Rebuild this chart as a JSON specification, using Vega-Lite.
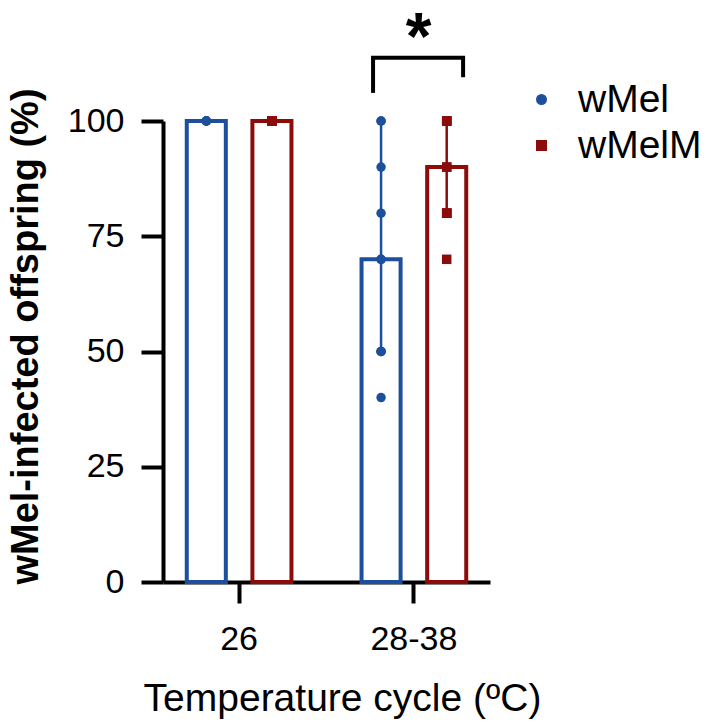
{
  "$schema": "https://vega.github.io/schema/vega-lite/v6.json",
  "width": 327,
  "height": 461,
  "autosize": {"type": "none"},
  "padding": {"left": 163, "top": 121, "right": 219, "bottom": 142},
  "background": "white",
  "config": {
    "view": {"stroke": null},
    "font": "Liberation Sans",
    "axis": {"domainColor": "black", "tickColor": "black", "labelColor": "black", "titleColor": "black", "grid": false},
    "legend": {"title": null, "orient": "none", "legendX": 359, "legendY": -41, "padding": 0, "labelFontSize": 39, "labelOffset": 17, "rowPadding": 6, "symbolSize": 90, "labelColor": "black"}
  },
  "datasets": {
    "bars": [
      {"temp": "26", "group": "wMel", "value": 100, "low": 100, "high": 100},
      {"temp": "26", "group": "wMelM", "value": 100, "low": 100, "high": 100},
      {"temp": "28-38", "group": "wMel", "value": 70, "low": 50, "high": 100},
      {"temp": "28-38", "group": "wMelM", "value": 90, "low": 80, "high": 100}
    ],
    "points": [
      {"temp": "26", "group": "wMel", "value": 100},
      {"temp": "26", "group": "wMel", "value": 100},
      {"temp": "26", "group": "wMel", "value": 100},
      {"temp": "26", "group": "wMel", "value": 100},
      {"temp": "26", "group": "wMel", "value": 100},
      {"temp": "26", "group": "wMelM", "value": 100},
      {"temp": "26", "group": "wMelM", "value": 100},
      {"temp": "26", "group": "wMelM", "value": 100},
      {"temp": "26", "group": "wMelM", "value": 100},
      {"temp": "26", "group": "wMelM", "value": 100},
      {"temp": "28-38", "group": "wMel", "value": 100},
      {"temp": "28-38", "group": "wMel", "value": 100},
      {"temp": "28-38", "group": "wMel", "value": 90},
      {"temp": "28-38", "group": "wMel", "value": 80},
      {"temp": "28-38", "group": "wMel", "value": 70},
      {"temp": "28-38", "group": "wMel", "value": 70},
      {"temp": "28-38", "group": "wMel", "value": 50},
      {"temp": "28-38", "group": "wMel", "value": 50},
      {"temp": "28-38", "group": "wMel", "value": 50},
      {"temp": "28-38", "group": "wMel", "value": 40},
      {"temp": "28-38", "group": "wMelM", "value": 100},
      {"temp": "28-38", "group": "wMelM", "value": 100},
      {"temp": "28-38", "group": "wMelM", "value": 100},
      {"temp": "28-38", "group": "wMelM", "value": 100},
      {"temp": "28-38", "group": "wMelM", "value": 90},
      {"temp": "28-38", "group": "wMelM", "value": 90},
      {"temp": "28-38", "group": "wMelM", "value": 80},
      {"temp": "28-38", "group": "wMelM", "value": 80},
      {"temp": "28-38", "group": "wMelM", "value": 80},
      {"temp": "28-38", "group": "wMelM", "value": 80},
      {"temp": "28-38", "group": "wMelM", "value": 70}
    ],
    "sig": [
      {"temp": "28-38", "top": 113.7, "leftBottom": 106.1, "rightBottom": 109.5, "starY": 113.5, "label": "*"}
    ]
  },
  "layer": [
    {
      "data": {"name": "bars"},
      "mark": {"type": "bar", "filled": false, "strokeWidth": 4},
      "encoding": {
        "x": {
          "field": "temp", "type": "nominal",
          "scale": {"domain": ["26", "28-38"], "paddingInner": 0.401, "paddingOuter": 0.136},
          "axis": {
            "title": "Temperature cycle (ºC)",
            "labelAngle": 0,
            "labelFontSize": 34,
            "labelPadding": 19,
            "tickSize": 21,
            "tickWidth": 4,
            "domainWidth": 4,
            "titleFontSize": 39,
            "titleFontWeight": "normal",
            "titleX": 179,
            "titleY": 128,
            "titleBaseline": "alphabetic",
            "titleAnchor": null,
            "titleAlign": "center"
          }
        },
        "xOffset": {"field": "group", "type": "nominal", "scale": {"domain": ["wMel", "wMelM"], "paddingInner": 0.405, "paddingOuter": 0}},
        "y": {
          "field": "value", "type": "quantitative",
          "scale": {"domain": [0, 100], "nice": false, "zero": true},
          "axis": {
            "title": "wMel-infected offspring (%)",
            "values": [0, 25, 50, 75, 100],
            "labelFontSize": 34,
            "labelPadding": 17,
            "tickSize": 22,
            "tickWidth": 4,
            "domainWidth": 4,
            "titleFontSize": 38,
            "titleFontWeight": "bold",
            "titleAngle": -90,
            "titleX": -126,
            "titleY": 215,
            "titleBaseline": "alphabetic",
            "titleAlign": "center",
            "titleAnchor": null
          }
        },
        "color": {"field": "group", "type": "nominal", "scale": {"domain": ["wMel", "wMelM"], "range": ["#1c4f9c", "#8c0c0c"]}}
      }
    },
    {
      "data": {"name": "bars"},
      "mark": {"type": "rule", "strokeWidth": 2.5},
      "encoding": {
        "x": {"field": "temp", "type": "nominal"},
        "xOffset": {"field": "group", "type": "nominal"},
        "y": {"field": "low", "type": "quantitative"},
        "y2": {"field": "high"},
        "color": {"field": "group", "type": "nominal"}
      }
    },
    {
      "data": {"name": "points"},
      "mark": {"type": "point", "filled": true, "opacity": 1, "size": 90},
      "encoding": {
        "x": {"field": "temp", "type": "nominal"},
        "xOffset": {"field": "group", "type": "nominal"},
        "y": {"field": "value", "type": "quantitative"},
        "color": {"field": "group", "type": "nominal"},
        "shape": {"field": "group", "type": "nominal", "scale": {"domain": ["wMel", "wMelM"], "range": ["circle", "square"]}}
      }
    },
    {
      "data": {"name": "sig"},
      "mark": {"type": "rule", "strokeWidth": 4, "color": "black", "strokeCap": "square"},
      "encoding": {
        "x": {"field": "temp", "type": "nominal", "bandPosition": 0.11},
        "x2": {"field": "temp", "bandPosition": 0.97},
        "y": {"field": "top", "type": "quantitative"}
      }
    },
    {
      "data": {"name": "sig"},
      "mark": {"type": "rule", "strokeWidth": 4, "color": "black"},
      "encoding": {
        "x": {"field": "temp", "type": "nominal", "bandPosition": 0.11},
        "y": {"field": "top", "type": "quantitative"},
        "y2": {"field": "leftBottom"}
      }
    },
    {
      "data": {"name": "sig"},
      "mark": {"type": "rule", "strokeWidth": 4, "color": "black"},
      "encoding": {
        "x": {"field": "temp", "type": "nominal", "bandPosition": 0.97},
        "y": {"field": "top", "type": "quantitative"},
        "y2": {"field": "rightBottom"}
      }
    },
    {
      "data": {"name": "sig"},
      "mark": {"type": "text", "fontSize": 66, "fontWeight": "bold", "baseline": "alphabetic", "align": "center", "color": "black"},
      "encoding": {
        "x": {"field": "temp", "type": "nominal", "bandPosition": 0.545},
        "y": {"field": "starY", "type": "quantitative"},
        "text": {"field": "label"}
      }
    }
  ]
}
